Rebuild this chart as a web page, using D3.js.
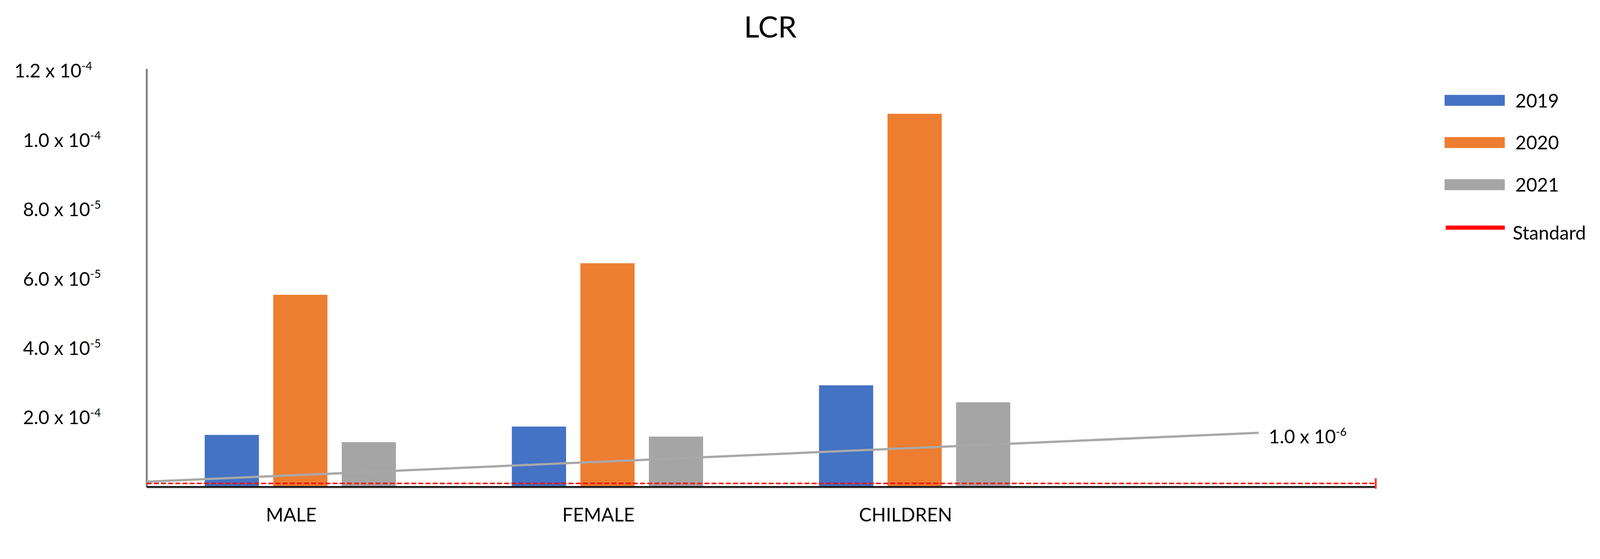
<!DOCTYPE html>
<html>
<head>
<meta charset="utf-8">
<script src="https://cdn.jsdelivr.net/npm/d3@7"></script>
<style>
  html, body { margin: 0; padding: 0; background: #ffffff; overflow: hidden; width: 100%; height: 100%; }
  #chart { display: block; width: 100vw; height: 100vh; }
  svg text { font-family: Lato, "Open Sans", "DejaVu Sans", sans-serif; fill: #000; }
</style>
</head>
<body>
<svg id="chart" viewBox="0 0 4252 1430" preserveAspectRatio="xMidYMin meet"></svg>
<script>
// ---- data ----
const categories = ["MALE", "FEMALE", "CHILDREN", ""];
const seriesNames = ["2019", "2020", "2021"];
const values2019 = [1.50e-5, 1.74e-5, 2.93e-5];
const values2020 = [5.54e-5, 6.45e-5, 10.76e-5];
const values2021 = [1.29e-5, 1.45e-5, 2.44e-5];
const seriesColors = ["#4472C4", "#ED7D31", "#A5A5A5"];
const yTickValues = [2e-5, 4e-5, 6e-5, 8e-5, 1e-4, 1.2e-4];
const yTickMantissa = ["2.0", "4.0", "6.0", "8.0", "1.0", "1.2"];
const yTickExponent = ["-4", "-5", "-5", "-5", "-4", "-4"];
const standardValue = 1.0e-6;
const trendPos = [0, 3.62];             // in category units along the x axis
const trendValues = [1.5e-6, 1.56e-5];
const trendLabelMantissa = "1.0";
const trendLabelExponent = "-6";
const legendItems = ["2019", "2020", "2021", "Standard"];
const titleText = "LCR";

const seriesValues = [values2019, values2020, values2021];

// ---- layout ----
const svg = d3.select("#chart");
const left = 390, right = 3655, baseY = 1293, topY = 188;

const x = d3.scaleBand().domain(categories).range([left, right]).padding(0);
const xs = d3.scaleBand().domain(seriesNames).range([0, x.bandwidth()])
  .paddingInner(0.209).paddingOuter(0.846);
const xl = d3.scaleLinear().domain([0, categories.length]).range([left, right]);
const y = d3.scaleLinear().domain([0, 1.2e-4]).range([baseY, topY]);

// title
svg.append("text").attr("x", 2047).attr("y", 100)
  .attr("text-anchor", "middle").style("font-size", "79px").text(titleText);

// bars
const barData = [];
categories.forEach((c, ci) => {
  seriesNames.forEach((s, si) => {
    const v = seriesValues[si][ci];
    if (v !== undefined) barData.push({ c, s, si, v });
  });
});
svg.append("g").selectAll("rect").data(barData).join("rect")
  .attr("x", d => x(d.c) + xs(d.s))
  .attr("width", xs.bandwidth())
  .attr("y", d => y(d.v))
  .attr("height", d => y(0) - y(d.v))
  .attr("fill", d => seriesColors[d.si]);

// y axis line (no ticks)
const yAxis = d3.axisLeft(y).tickValues([]).tickSize(0);
const gy = svg.append("g").attr("transform", `translate(${left},0)`).call(yAxis);
gy.select(".domain").attr("stroke", "#808080").attr("stroke-width", 5)
  .attr("d", `M0,${baseY + 1}V${topY - 5}`);

// y tick labels
const yl = svg.append("g").selectAll("text").data(yTickValues).join("text")
  .attr("x", (d, i) => i === yTickValues.length - 1 ? 245 : 268)
  .attr("y", d => y(d) + 18)
  .attr("text-anchor", "end")
  .style("font-size", "50px");
yl.append("tspan").text((d, i) => yTickMantissa[i] + " x 10");
yl.append("tspan").attr("dy", -20).style("font-size", "30px").text((d, i) => yTickExponent[i]);

// x axis shadow + line
svg.append("line").attr("x1", left).attr("x2", right).attr("y1", baseY + 4).attr("y2", baseY + 4)
  .attr("stroke", "#e3e3e3").attr("stroke-width", 4);
const xAxis = d3.axisBottom(x).tickSize(0).tickFormat("");
const gx = svg.append("g").attr("transform", `translate(0,${baseY})`).call(xAxis);
gx.select(".domain").attr("stroke", "#1a1a1a").attr("stroke-width", 5)
  .attr("d", `M${left},0H${right}`);
gx.selectAll(".tick text").remove();

// x category labels
svg.append("g").selectAll("text").data(categories.filter(c => c !== "")).join("text")
  .attr("x", d => x(d) + x.bandwidth() / 2 - 24)
  .attr("y", 1385)
  .attr("text-anchor", "middle")
  .style("font-size", "50px")
  .text(d => d);

// standard line (red dashed)
svg.append("line")
  .attr("x1", left).attr("x2", right)
  .attr("y1", y(standardValue)).attr("y2", y(standardValue))
  .attr("stroke", "#ff0000").attr("stroke-width", 4).attr("stroke-dasharray", "13,6");
svg.append("line")
  .attr("x1", right + 1).attr("x2", right + 1)
  .attr("y1", y(standardValue) - 14).attr("y2", baseY + 5)
  .attr("stroke", "#ff3030").attr("stroke-width", 5);

// trend line (gray)
const trendData = trendPos.map((p, i) => [p, trendValues[i]]);
svg.append("path").datum(trendData)
  .attr("d", d3.line().x(d => xl(d[0])).y(d => y(d[1])))
  .attr("fill", "none").attr("stroke", "#a8a8a8").attr("stroke-width", 6);
const tEnd = trendData[trendData.length - 1];
const tl = svg.append("text")
  .attr("x", xl(tEnd[0]) + 27).attr("y", y(tEnd[1]) + 28)
  .style("font-size", "50px");
tl.append("tspan").text(trendLabelMantissa + " x 10");
tl.append("tspan").attr("dy", -20).style("font-size", "30px").text(trendLabelExponent);

// legend
const legendColors = seriesColors.concat(["#ff0000"]);
const lg = svg.append("g");
legendItems.forEach((name, i) => {
  const top = 252 + i * 112;
  if (i < 3) {
    lg.append("rect").attr("x", 3839).attr("y", top).attr("width", 160).attr("height", 29)
      .attr("fill", legendColors[i]);
    lg.append("text").attr("x", 4027).attr("y", top + 33).style("font-size", "50px").text(name);
  } else {
    lg.append("rect").attr("x", 3842).attr("y", top + 11).attr("width", 157).attr("height", 11)
      .attr("fill", legendColors[i]);
    lg.append("text").attr("x", 4020).attr("y", top + 48).style("font-size", "50px").text(name);
  }
});
</script>
</body>
</html>
